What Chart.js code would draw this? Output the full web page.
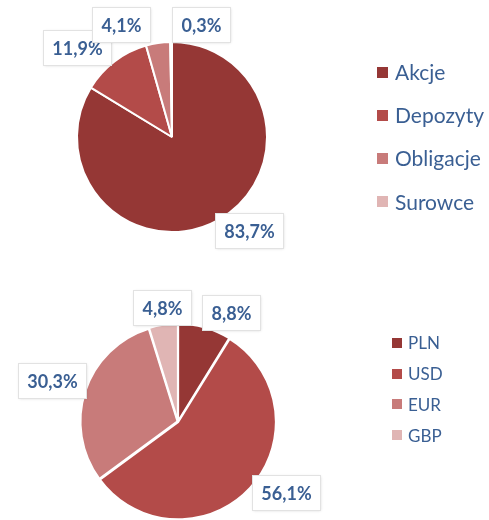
<!DOCTYPE html>
<html>
<head>
<meta charset="utf-8">
<script src="https://cdn.jsdelivr.net/npm/chart.js@4.4.0/dist/chart.umd.min.js"></script>
<style>
html, body { margin: 0; padding: 0; background: #fff; }
#wrap { position: relative; width: 489px; height: 520px; }
.part { position: absolute; left: 0; width: 489px; height: 260px; }
</style>
</head>
<body>
<div id="wrap">
  <div class="part" style="top:0"><canvas id="assetChart" width="489" height="260"></canvas></div>
  <div class="part" style="top:260px"><canvas id="currencyChart" width="489" height="260"></canvas></div>
</div>
<script>
// Struktura aktywów (%)
const assetLabels = ['Akcje', 'Depozyty', 'Obligacje', 'Surowce'];
const assetShares = [83.7, 11.9, 4.1, 0.3];

// Struktura walutowa (%)
const currencyLabels = ['PLN', 'USD', 'EUR', 'GBP'];
const currencyShares = [8.8, 56.1, 30.3, 4.8];

const sliceColors = ['#953735', '#B34B49', '#C87B7A', '#E0B5B4'];
const textBlue = '#3A5F93';

// value boxes next to the slices + legend on the right
const pieDecor = {
    id: 'pieDecor',
    afterDraw(chart, args, opts) {
        const ctx = chart.ctx;
        const meta = chart.getDatasetMeta(0);
        const values = chart.data.datasets[0].data;
        const colors = chart.data.datasets[0].backgroundColor;

        ctx.save();
        ctx.font = 'bold 18px Lato';
        ctx.textAlign = 'center';
        ctx.textBaseline = 'middle';
        meta.data.forEach((arc, i) => {
            const p = arc.getProps(['x', 'y', 'startAngle', 'endAngle', 'outerRadius'], true);
            const mid = (p.startAngle + p.endAngle) / 2;
            const dx = Math.cos(mid);
            const dy = Math.sin(mid);
            const text = values[i].toFixed(1).replace('.', ',') + '%';
            const w = Math.round(ctx.measureText(text).width) + 18;
            const h = 35;
            const r = p.outerRadius + opts.gap;
            const nudge = opts.nudge[i] || [0, 0];
            const cx = p.x + dx * r + dx * w / 2 + nudge[0];
            const cy = p.y + dy * r + dy * h / 2 + nudge[1];
            const bx = Math.round(cx - w / 2) + 0.5;
            const by = Math.round(cy - h / 2) + 0.5;

            ctx.shadowColor = 'rgba(0,0,0,0.2)';
            ctx.shadowBlur = 3;
            ctx.fillStyle = '#fff';
            ctx.fillRect(bx, by, w, h);
            ctx.shadowColor = 'transparent';
            ctx.strokeStyle = '#E2E2E2';
            ctx.lineWidth = 1;
            ctx.strokeRect(bx, by, w, h);
            ctx.fillStyle = textBlue;
            ctx.fillText(text, bx + w / 2, by + h / 2 + 1);
        });

        const lg = opts.legend;
        ctx.font = lg.font + 'px Lato';
        ctx.textAlign = 'left';
        chart.data.labels.forEach((name, i) => {
            const y = lg.y + i * lg.step;
            ctx.fillStyle = colors[i];
            ctx.fillRect(lg.x, Math.round(y - lg.box / 2), lg.box, lg.box);
            ctx.fillStyle = textBlue;
            ctx.fillText(name, lg.textX, y + 1);
        });
        ctx.restore();
    }
};

function makePie(id, labels, values, cfg) {
    return new Chart(document.getElementById(id), {
        type: 'pie',
        data: {
            labels: labels,
            datasets: [{
                data: values,
                backgroundColor: sliceColors,
                borderColor: '#fff',
                borderWidth: 2,
                offset: cfg.offset,
                radius: cfg.radius
            }]
        },
        options: {
            responsive: false,
            animation: false,
            layout: { padding: cfg.padding },
            plugins: {
                legend: { display: false },
                tooltip: { enabled: false },
                pieDecor: cfg.decor
            }
        },
        plugins: [pieDecor]
    });
}

makePie('assetChart', assetLabels, assetShares, {
    offset: 0,
    radius: 95,
    padding: { left: 72, right: 217, top: 37, bottom: 23 },
    decor: {
        gap: 6,
        nudge: [[11, -10], [-13, 5], [-32, 5], [30, 6]],
        legend: { x: 377, box: 11, textX: 395, y: 72, step: 43.3, font: 21 }
    }
});

makePie('currencyChart', currencyLabels, currencyShares, {
    offset: 2,
    radius: 97,
    padding: { left: 83, right: 216, top: 66, bottom: 3 },
    decor: {
        gap: 6,
        nudge: [[17, 7], [7, -11], [4, -3], [4, 5]],
        legend: { x: 392, box: 10, textX: 408, y: 83, step: 30.7, font: 17 }
    }
});
</script>
</body>
</html>
